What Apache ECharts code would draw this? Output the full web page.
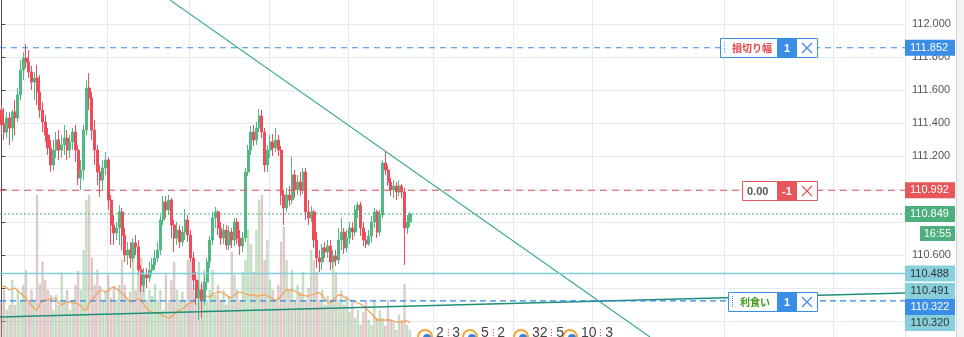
<!DOCTYPE html>
<html><head><meta charset="utf-8">
<script src="https://cdn.jsdelivr.net/npm/echarts@6/dist/echarts.min.js"></script>
<style>html,body{margin:0;padding:0;background:#fff}#c{width:964px;height:337px}</style>
</head><body><div id="c"></div>
<script>
// ---------- data ----------
const opens = [
111.479,111.388,111.345,111.431,111.370,111.467,111.431,111.570,111.721,111.794,
111.769,111.709,111.648,111.673,111.588,111.479,111.406,111.327,111.249,111.146,
111.236,111.297,111.236,111.267,111.309,111.236,111.285,111.345,111.236,111.067,
111.115,111.357,111.612,111.552,111.357,111.236,111.103,111.054,111.128,111.176,
110.933,110.782,110.733,110.764,110.861,110.721,110.600,110.630,110.582,110.673,
110.649,110.509,110.418,110.479,110.461,110.509,110.540,110.582,110.630,110.812,
110.921,110.873,110.933,110.782,110.703,110.751,110.679,110.739,110.812,110.721,
110.582,110.448,110.340,110.388,110.327,110.436,110.558,110.691,110.825,110.861,
110.764,110.703,110.751,110.661,110.739,110.691,110.800,110.703,110.655,110.703,
111.103,111.236,111.345,111.297,111.370,111.443,111.345,111.146,111.236,111.285,
111.249,111.297,111.236,110.964,110.885,110.964,110.933,111.085,110.994,111.042,
110.994,111.103,110.861,110.825,110.861,110.691,110.582,110.558,110.643,110.618,
110.655,110.558,110.594,110.570,110.691,110.739,110.643,110.703,110.764,110.739,
110.873,110.903,110.764,110.691,110.667,110.715,110.800,110.861,110.739,110.843,
111.158,111.115,111.042,110.994,111.018,110.982,111.018,110.982,110.764,110.800];
const closes = [
111.388,111.345,111.431,111.370,111.467,111.431,111.570,111.721,111.794,111.769,
111.709,111.648,111.673,111.588,111.479,111.406,111.327,111.249,111.146,111.236,
111.297,111.236,111.267,111.309,111.236,111.285,111.345,111.236,111.067,111.115,
111.357,111.612,111.552,111.357,111.236,111.103,111.054,111.128,111.176,110.933,
110.782,110.733,110.764,110.861,110.721,110.600,110.630,110.582,110.673,110.649,
110.509,110.418,110.479,110.461,110.509,110.540,110.582,110.630,110.812,110.921,
110.873,110.933,110.782,110.703,110.751,110.679,110.739,110.812,110.721,110.582,
110.448,110.340,110.388,110.327,110.436,110.558,110.691,110.825,110.861,110.764,
110.703,110.751,110.661,110.739,110.691,110.800,110.703,110.655,110.703,111.103,
111.236,111.345,111.297,111.370,111.443,111.345,111.146,111.236,111.285,111.249,
111.297,111.236,110.964,110.885,110.964,110.933,111.085,110.994,111.042,110.994,
111.103,110.861,110.825,110.861,110.691,110.582,110.558,110.643,110.618,110.655,
110.558,110.594,110.570,110.691,110.739,110.643,110.703,110.764,110.739,110.873,
110.903,110.764,110.691,110.667,110.715,110.800,110.861,110.739,110.843,111.158,
111.115,111.042,110.994,111.018,110.982,111.018,110.982,110.764,110.800,110.849];
const highs = [
111.509,111.491,111.467,111.467,111.479,111.539,111.612,111.781,111.830,111.878,
111.842,111.745,111.709,111.751,111.691,111.527,111.449,111.370,111.297,111.297,
111.345,111.357,111.327,111.388,111.357,111.327,111.370,111.388,111.267,111.176,
111.388,111.660,111.703,111.588,111.418,111.267,111.146,111.176,111.224,111.194,
110.964,110.842,110.800,110.903,110.885,110.764,110.679,110.679,110.703,110.721,
110.691,110.540,110.521,110.521,110.558,110.582,110.630,110.679,110.842,110.958,
110.958,110.964,110.946,110.812,110.800,110.782,110.776,110.879,110.842,110.751,
110.618,110.497,110.448,110.436,110.479,110.582,110.715,110.861,110.891,110.873,
110.800,110.788,110.782,110.776,110.764,110.825,110.825,110.751,110.739,111.128,
111.267,111.382,111.388,111.406,111.485,111.479,111.370,111.267,111.327,111.333,
111.370,111.327,111.261,110.994,111.006,111.018,111.194,111.115,111.085,111.103,
111.128,111.128,110.933,110.897,110.873,110.739,110.630,110.667,110.679,110.691,
110.691,110.630,110.630,110.764,110.825,110.764,110.751,110.800,110.800,110.903,
110.921,110.921,110.800,110.739,110.751,110.836,110.885,110.873,110.873,111.176,
111.230,111.146,111.067,111.054,111.042,111.054,111.030,111.006,110.842,110.861];
const lows = [
111.327,111.297,111.309,111.267,111.291,111.327,111.406,111.539,111.660,111.733,
111.673,111.600,111.539,111.509,111.431,111.345,111.285,111.206,111.103,111.115,
111.188,111.176,111.188,111.206,111.176,111.188,111.236,111.164,111.024,110.994,
111.054,111.327,111.479,111.297,111.146,111.024,110.952,110.994,111.085,110.873,
110.661,110.661,110.691,110.661,110.630,110.558,110.540,110.521,110.558,110.600,
110.479,110.376,110.376,110.400,110.436,110.479,110.509,110.558,110.600,110.782,
110.824,110.842,110.703,110.618,110.661,110.643,110.655,110.691,110.679,110.558,
110.388,110.297,110.206,110.218,110.297,110.388,110.521,110.661,110.764,110.721,
110.661,110.667,110.630,110.630,110.643,110.655,110.667,110.600,110.618,110.679,
111.079,111.206,111.261,111.267,111.345,111.309,111.103,111.103,111.188,111.200,
111.224,111.200,110.903,110.782,110.861,110.897,110.909,110.946,110.964,110.958,
110.970,110.812,110.782,110.800,110.643,110.521,110.497,110.509,110.582,110.582,
110.509,110.521,110.533,110.546,110.630,110.606,110.618,110.667,110.691,110.715,
110.824,110.715,110.655,110.643,110.655,110.679,110.764,110.703,110.715,110.824,
111.085,111.018,110.958,110.946,110.933,110.958,110.946,110.540,110.727,110.770];
const volumes = [
54,64,44,49,74,49,64,54,69,84,
54,64,54,159,70,92,74,64,59,44,
59,49,81,54,64,44,54,69,83,64,
104,154,159,96,69,84,68,54,64,79,
56,68,54,69,94,69,54,62,96,64,
80,96,72,54,64,58,70,54,64,44,
79,54,74,92,64,54,62,54,94,92,
64,54,92,69,84,54,64,84,59,69,
54,64,49,58,102,79,64,54,82,94,
124,110,82,124,154,159,94,114,74,64,
54,69,112,127,94,64,84,54,69,62,
82,54,66,104,94,82,54,64,49,58,
54,96,82,54,64,49,58,42,54,36,
44,29,42,54,34,29,54,36,44,36,
28,54,34,32,24,39,34,70,29,24];
const volumeMA = [
67,68,66,64,65,66,63,61,58,56,
52,49,45,44,50,53,54,54,55,56,
55,51,49,51,52,52,51,51,50,48,
44,44,51,54,57,61,64,63,62,63,
66,67,65,63,61,58,55,52,53,54,
55,54,49,46,43,42,41,41,40,38,
37,36,37,40,42,44,45,47,50,51,
52,56,58,59,57,58,57,60,61,62,
62,61,59,56,57,59,61,62,61,60,
59,59,59,58,58,59,59,58,57,55,
54,55,58,62,64,64,64,63,61,59,
59,58,58,59,60,61,61,59,55,52,
51,54,57,59,59,57,55,54,53,52,
51,50,48,45,43,40,37,34,34,34,
34,34,34,33,32,32,32,33,33,31];
const slotCount = 330;             // bar slots across the plot width
const trendDown = [[61.5, 112.145], [236.5, 110.103]];
const trendUp = [[-0.5, 110.224], [329.5, 110.369]];
const levelPrices = [111.856, 110.992, 110.849, 110.488, 110.322];
const levelTags = ['111.852', '110.992', '110.849', '110.488', '110.322'];
const stackedTags = ['110.491', '110.322', '110.320'];
const timerTag = '16:55';
const boxLabels = ['損切り幅', '0.00', '利食い'];
const boxCounts = ['1', '-1', '1'];
const eventLeft = ['2', '5', '32', '10'];
const eventRight = ['3', '2', '5', '3'];
const priceTicks = { min: 110.0, max: 112.2, interval: 0.2 };
const coveredTickLabels = ['110.800'];   // axis labels hidden behind price tags
const vGridSlots = [9, 39, 69, 98, 127, 158, 187, 216, 264, 304];

// ---------- chart ----------
const UP = '#4fb883', DOWN = '#ee4b5b';
const BLUE = '#3a8ee6', RED = '#e5575a', GREEN = '#4caf7d', CYAN = '#86cfdb';
const FONT = 'Liberation Sans, Arial, sans-serif';
const categories = Array.from({length: slotCount}, (_, i) => String(i));
const candleData = opens.map((o, i) => [o, closes[i], lows[i], highs[i]]);
const volData = volumes.map((v, i) => ({
  value: v,
  itemStyle: closes[i] >= opens[i]
    ? { color: 'rgba(165,212,165,0.35)', borderColor: 'rgba(120,180,120,0.7)', borderWidth: 0.6 }
    : { color: 'rgba(222,185,185,0.35)', borderColor: 'rgba(180,130,130,0.7)', borderWidth: 0.6 }
}));

const levelStyles = [
  { line: { color: BLUE, type: [6, 5], width: 1 }, bg: BLUE, fg: '#fff' },
  { line: { color: RED, type: [7, 5], width: 1 }, bg: RED, fg: '#fff' },
  { line: { color: GREEN, type: [2, 2], width: 1 }, bg: GREEN, fg: '#fff' },
  { line: { color: '#7ccfdb', type: 'solid', width: 1.3 }, bg: CYAN, fg: '#333' },
  { line: { color: '#2f86e0', type: [6, 4], width: 1.3 }, bg: BLUE, fg: '#fff', hide: true }
];
// each price level: a flat line across the plot, with its price tag at the right end
const levelSeries = levelPrices.map((p, i) => ({
  type: 'line', xAxisIndex: 1, yAxisIndex: 0, silent: true, z: 5,
  data: [[-0.5, p], [slotCount - 0.5, p]],
  symbol: 'none', color: levelStyles[i].line.color,
  lineStyle: levelStyles[i].line,
  endLabel: {
    show: !levelStyles[i].hide, distance: 0,
    formatter: levelTags[i], backgroundColor: levelStyles[i].bg, color: levelStyles[i].fg,
    fontFamily: FONT, fontSize: 11, lineHeight: 12, padding: [2, 5, 2, 5], width: 40
  }
}));

function tag(x, y, w, h, bg, fg, text) {
  return [
    { type: 'rect', z: 100, shape: { x, y, width: w, height: h }, style: { fill: bg } },
    { type: 'text', z: 101, x: x + w / 2, y: y + h / 2,
      style: { text, fill: fg, font: '11px ' + FONT, align: 'center', verticalAlign: 'middle' } }
  ];
}
function box(x, y, w, h, border, label, labelColor, labelFont, count, handle) {
  const els = [
    { type: 'rect', z: 100, shape: { x: x + 0.5, y: y + 0.5, width: w, height: h }, style: { fill: '#fff', stroke: border, lineWidth: 1 } },
    { type: 'rect', z: 101, shape: { x: 777, y: y + 0.5, width: 20, height: h }, style: { fill: border } },
    { type: 'text', z: 102, x: 787, y: y + h / 2 + 1, style: { text: count, fill: '#fff', font: 'bold 11px ' + FONT, align: 'center', verticalAlign: 'middle' } },
    { type: 'text', z: 102, x: handle ? x + 12 : x + 5, y: y + h / 2 + 1, style: { text: label, fill: labelColor, font: labelFont, verticalAlign: 'middle' } },
    { type: 'line', z: 102, shape: { x1: 802, y1: y + 5, x2: 812, y2: y + h - 4 }, style: { stroke: border, lineWidth: 1.3 } },
    { type: 'line', z: 102, shape: { x1: 812, y1: y + 5, x2: 802, y2: y + h - 4 }, style: { stroke: border, lineWidth: 1.3 } }
  ];
  if (handle) els.push({ type: 'line', z: 102, shape: { x1: x + 4.5, y1: y + 4, x2: x + 4.5, y2: y + h - 3 }, style: { stroke: border, lineWidth: 1, lineDash: [1, 1] } });
  return els;
}
const graphics = [];
graphics.push({ type: 'rect', z: 90, shape: { x: 956.5, y: -1, width: 9, height: 340 }, style: { fill: '#f3f3f3', stroke: '#d6d6d6', lineWidth: 1 } });
graphics.push(...box(720, 38, 97, 19, BLUE, boxLabels[0], '#e24848', 'bold 10px "Noto Sans CJK JP"', boxCounts[0], true));
graphics.push(...box(742, 181, 75, 19, RED, boxLabels[1], '#555', 'bold 11px ' + FONT, boxCounts[1], false));
graphics.push(...box(728, 292, 89, 19, BLUE, boxLabels[2], '#3f9a1e', 'bold 10px "Noto Sans CJK JP"', boxCounts[2], true));
graphics.push(...tag(905, 283, 50, 16, CYAN, '#333', stackedTags[0]));
graphics.push(...tag(905, 299, 50, 16, BLUE, '#fff', stackedTags[1]));
graphics.push(...tag(905, 315, 50, 16, CYAN, '#333', stackedTags[2]));
graphics.push(...tag(920, 226, 35, 15, GREEN, '#fff', timerTag));
const iconX = [425, 470, 521, 570];
iconX.forEach((cx, i) => {
  graphics.push({ type: 'circle', z: 100, shape: { cx, cy: 337, r: 7 }, style: { fill: '#fff', stroke: '#f2a633', lineWidth: 2 } });
  graphics.push({ type: 'circle', z: 101, shape: { cx: cx + 2, cy: 338, r: 4 }, style: { fill: '#3b7fd1' } });
  graphics.push({ type: 'text', z: 101, x: cx + 11, y: 326, style: {
    text: '{n|' + eventLeft[i] + '}{m| ⁝ }{n|' + eventRight[i] + '}',
    rich: { n: { fontSize: 14, fill: '#444', fontFamily: FONT }, m: { fontSize: 10, fill: '#e05050', fontFamily: FONT } },
    verticalAlign: 'top' } });
});

const chart = echarts.init(document.getElementById('c'), null, { renderer: 'canvas' });
chart.setOption({
  animation: false,
  backgroundColor: '#fff',
  grid: { left: 0, right: 59, top: -9, bottom: -17, outerBoundsMode: 'none', containLabel: false },
  xAxis: [
    { type: 'category', data: categories, boundaryGap: true,
      axisLine: { show: false }, axisTick: { show: false }, axisLabel: { show: false },
      splitLine: { show: true, interval: (idx) => vGridSlots.includes(idx), lineStyle: { color: '#e3eaf1', width: 1 } } },
    { type: 'value', min: -0.5, max: slotCount - 0.5, show: false }
  ],
  yAxis: [
    { type: 'value', position: 'right', min: priceTicks.min, max: priceTicks.max, interval: priceTicks.interval,
      axisLine: { show: true, lineStyle: { color: '#4a4a4a', width: 1 } },
      axisTick: { show: true, length: 4, lineStyle: { color: '#4a4a4a' } },
      axisLabel: { color: '#555', fontSize: 11, fontFamily: FONT, margin: 7,
        formatter: v => coveredTickLabels.includes(v.toFixed(3)) ? '' : v.toFixed(3) },
      splitLine: { show: true, lineStyle: { color: '#e3eaf1', width: 1 } } },
    { type: 'value', min: 0, max: 363, show: false, splitLine: { show: false } }
  ],
  series: [
    { type: 'bar', xAxisIndex: 0, yAxisIndex: 1, data: volData, barWidth: '72%', silent: true, z: 1 },
    { type: 'line', xAxisIndex: 0, yAxisIndex: 1, data: volumeMA, symbol: 'none', silent: true, z: 2,
      lineStyle: { color: '#f6a15a', width: 1.3 } },
    { type: 'line', xAxisIndex: 1, yAxisIndex: 0, data: trendUp, symbol: 'none', silent: true, z: 3,
      lineStyle: { color: '#1e8f79', width: 1.5 } },
    { type: 'line', xAxisIndex: 1, yAxisIndex: 0, data: trendDown, symbol: 'none', silent: true, z: 3,
      lineStyle: { color: '#34a78c', width: 1.1 } },
    { type: 'candlestick', xAxisIndex: 0, yAxisIndex: 0, data: candleData, barWidth: '92%', z: 4,
      itemStyle: { color: UP, color0: DOWN, borderColor: UP, borderColor0: DOWN, borderWidth: 1 } },
    ...levelSeries
  ],
  graphic: { elements: graphics }
});
</script></body></html>
